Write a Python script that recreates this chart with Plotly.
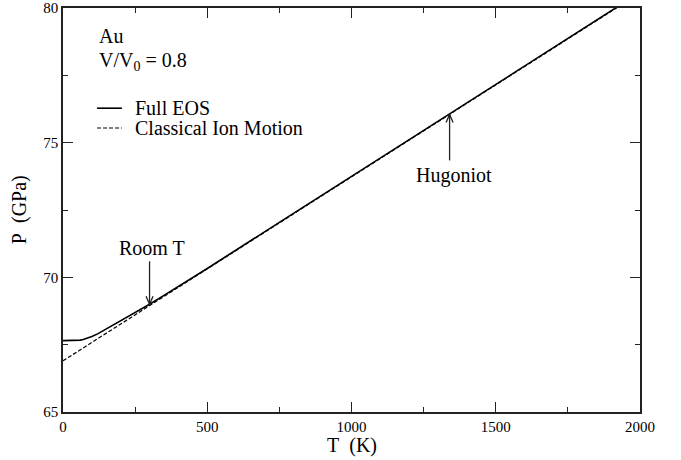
import plotly.graph_objects as go

# Temperature grid (K) and pressure (GPa) for Au at V/V0 = 0.8
temp_full = [0, 30, 50, 60, 70, 80, 90, 100, 120, 140, 160, 180, 200,
             250, 300, 350, 400, 500, 750, 1000, 1250, 1500, 1750, 2000]
p_full = [67.65, 67.65, 67.66, 67.67, 67.69, 67.72, 67.76, 67.80, 67.90,
          68.02, 68.15, 68.27, 68.39, 68.69, 69.00, 69.33, 69.66, 70.33,
          72.04, 73.74, 75.45, 77.16, 78.87, 80.58]

temp_classical = [0, 500, 1000, 1500, 2000]
p_classical = [66.90, 70.32, 73.73, 77.15, 80.56]

# Marked states on the full EOS curve
room_t = (300, 69.00)
hugoniot = (1340, 76.05)

x_ticks = [0, 500, 1000, 1500, 2000]
y_ticks = [65, 70, 75, 80]

FONT = "Liberation Serif, Times New Roman, serif"
INK = "#222"

fig = go.Figure()
fig.add_trace(go.Scatter(x=temp_full, y=p_full, mode="lines",
                         line=dict(color="black", width=1.6),
                         name="Full EOS", showlegend=False))
fig.add_trace(go.Scatter(x=temp_classical, y=p_classical, mode="lines",
                         line=dict(color="black", width=1.2, dash="4px,2px"),
                         name="Classical Ion Motion", showlegend=False))

axis_common = dict(
    showgrid=False, zeroline=False, showline=True, linecolor=INK,
    linewidth=1.6, mirror="allticks", ticks="inside", ticklen=10,
    tickwidth=1.4, tickcolor=INK, automargin=False,
    tickfont=dict(family=FONT, size=15, color="black"),
)
fig.update_xaxes(range=[0, 2000], tickvals=x_ticks,
                 minor=dict(dtick=250, ticklen=5, tickwidth=1.4,
                            tickcolor=INK, ticks="inside"),
                 **axis_common)
fig.update_yaxes(range=[65, 80], tickvals=y_ticks,
                 minor=dict(dtick=2.5, ticklen=5, tickwidth=1.4,
                            tickcolor=INK, ticks="inside"),
                 **axis_common)


def text_note(text, x, y, size=20, **kw):
    return dict(text=text, x=x, y=y, xref="paper", yref="paper",
                xanchor="left", yanchor="middle", showarrow=False,
                font=dict(family=FONT, size=size, color="black"), **kw)


annotations = [
    text_note("Au", 0.059, 0.931),
    text_note("V/V<sub>0</sub> = 0.8", 0.059, 0.868),
    text_note("Full EOS", 0.121, 0.752),
    text_note("Classical Ion Motion", 0.121, 0.703),
    # labels for the marked states, placed off their arrow tails
    dict(text="Room T", x=room_t[0], y=room_t[1], xref="x", yref="y",
         showarrow=False, yshift=56, xshift=2,
         font=dict(family=FONT, size=20, color="black")),
    dict(text="Hugoniot", x=hugoniot[0], y=hugoniot[1], xref="x", yref="y",
         showarrow=False, yshift=-61, xshift=4,
         font=dict(family=FONT, size=20, color="black")),
    # axis titles
    dict(text="T\u00a0\u00a0(K)", x=0.50, y=-0.082, xref="paper",
         yref="paper", xanchor="center", yanchor="middle", showarrow=False,
         font=dict(family=FONT, size=20, color="black")),
    dict(text="P\u00a0\u00a0(GPa)", x=-0.076, y=0.50, xref="paper",
         yref="paper", xanchor="center", yanchor="middle", showarrow=False,
         textangle=-90, font=dict(family=FONT, size=20, color="black")),
]


def arrow_shapes(pt, length):
    """Thin arrow with an open chevron head ending at a data point.
    Positive length puts the tail above the point, negative below."""
    sgn = 1 if length > 0 else -1
    return [
        dict(type="line", xref="x", yref="y", xsizemode="pixel",
             ysizemode="pixel", xanchor=pt[0], yanchor=pt[1],
             x0=0, x1=0, y0=0, y1=length, line=dict(color=INK, width=1.3)),
        dict(type="path", xref="x", yref="y", xsizemode="pixel",
             ysizemode="pixel", xanchor=pt[0], yanchor=pt[1],
             path=f"M -3.5,{8 * sgn} L 0,0 L 3.5,{8 * sgn}",
             line=dict(color=INK, width=1.3)),
    ]


shapes = [
    dict(type="line", xref="paper", yref="paper", x0=0.059, x1=0.102,
         y0=0.752, y1=0.752, line=dict(color="black", width=1.6)),
    dict(type="line", xref="paper", yref="paper", x0=0.059, x1=0.102,
         y0=0.703, y1=0.703, line=dict(color="black", width=1.2,
                                         dash="4px,2px")),
]
shapes += arrow_shapes(room_t, 43)
shapes += arrow_shapes(hugoniot, -46)

fig.update_layout(
    width=681, height=460,
    margin=dict(l=63, r=41, t=8, b=48),
    paper_bgcolor="white", plot_bgcolor="white",
    annotations=annotations, shapes=shapes,
    font=dict(family=FONT, color="black"),
)

fig.write_html("out.html")
